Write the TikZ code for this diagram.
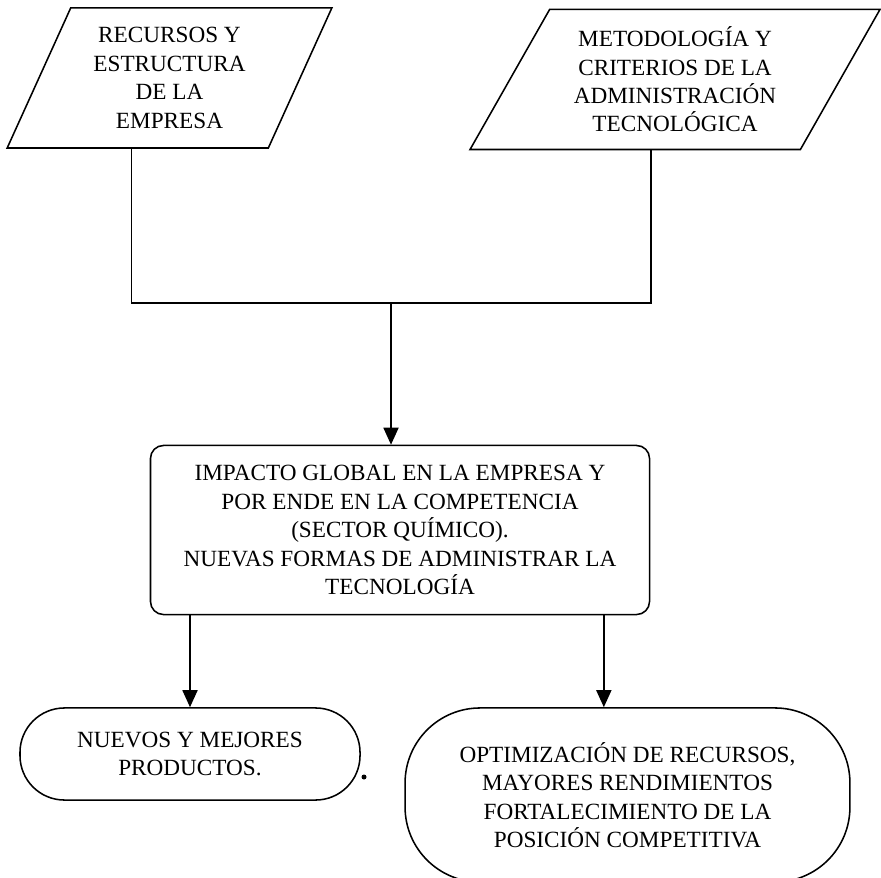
\documentclass[tikz,border=0pt]{standalone}
\usepackage{fontspec}
\setmainfont{Liberation Serif}
\usetikzlibrary{shapes.geometric,arrows.meta,calc}

\begin{document}
\begin{tikzpicture}[x=0.517pt,y=-0.517pt,line width=0.8pt,
    >={Triangle[width=7.8pt,length=8.8pt]}]
\tikzset{every node/.style={font=\fontsize{12}{14.7}\selectfont,align=center}}
\tikzset{datos/.style={shape=trapezium,draw,trapezium stretches=true,minimum height=72.4pt}}
\tikzset{proceso/.style={draw,rounded corners=6.7pt,minimum width=258pt,minimum height=87.4pt}}
\tikzset{salida/.style={draw}}
%\tikzset{salida/.style={shape=rounded rectangle,draw}}
\useasboundingbox (0,0) rectangle (881,877);

\node[datos,trapezium left angle=65,trapezium right angle=115,minimum width=168pt]
    (recursos) at (169.5,78) {RECURSOS Y\\ESTRUCTURA\\DE LA\\EMPRESA};
\node[datos,trapezium left angle=60,trapezium right angle=120,minimum width=212pt]
    (metodo) at (675,79.5) {METODOLOGÍA Y\\CRITERIOS DE LA\\ADMINISTRACIÓN\\TECNOLÓGICA};
\node[proceso] (impacto) at (400,530)
    {IMPACTO GLOBAL EN LA EMPRESA Y\\POR ENDE EN LA COMPETENCIA\\(SECTOR QUÍMICO).\\NUEVAS FORMAS DE ADMINISTRAR LA\\TECNOLOGÍA};
\node[salida,rounded corners=23pt,minimum width=175.8pt,minimum height=47.6pt]
    (productos) at (190,754) {NUEVOS Y MEJORES\\PRODUCTOS.};
\node[salida,rounded corners=38.8pt,minimum width=230pt,minimum height=90pt]
    (optimiza) at (627.5,795) {OPTIMIZACIÓN DE RECURSOS,\\MAYORES RENDIMIENTOS\\FORTALECIMIENTO DE LA\\POSICIÓN COMPETITIVA};

% union de las entradas
\coordinate (union) at (391,303);
\coordinate (salidaA) at ($(recursos.bottom left corner)!0.477!(recursos.bottom right corner)$);
\coordinate (salidaB) at ($(metodo.bottom left corner)!0.548!(metodo.bottom right corner)$);
\coordinate (entrada) at ($(optimiza.north west)!0.447!(optimiza.north east)$);

\draw (salidaA) |- (union) -| (salidaB);
\draw[->] (union) -- (union |- impacto.north);
\draw[->] (impacto.south -| productos.north) -- (productos.north);
\draw[->] (impacto.south -| entrada) -- (entrada);

\fill (364,777) circle (2.5);
\end{tikzpicture}
\end{document}
